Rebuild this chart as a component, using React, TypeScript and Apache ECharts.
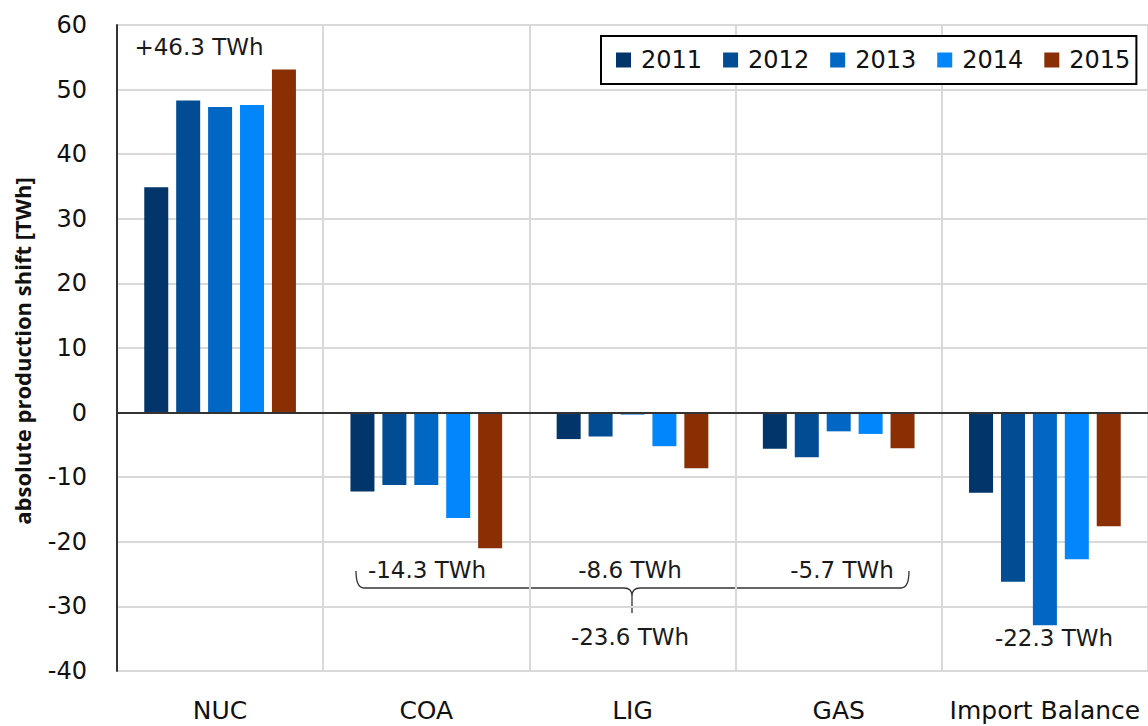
import React, { useEffect, useRef } from "react";
import * as echarts from "echarts";

const categories = ["NUC", "COA", "LIG", "GAS", "Import Balance"];
const years = ["2011", "2012", "2013", "2014", "2015"];
const values2011 = [34.9, -12.2, -4.1, -5.6, -12.4];
const values2012 = [48.3, -11.2, -3.7, -6.9, -26.2];
const values2013 = [47.3, -11.2, -0.3, -2.9, -32.9];
const values2014 = [47.6, -16.3, -5.2, -3.3, -22.7];
const values2015 = [53.1, -21.0, -8.6, -5.5, -17.6];
const seriesValues = [values2011, values2012, values2013, values2014, values2015];
const colors = ["#02356A", "#014C93", "#0167C5", "#0186FC", "#8A2E03"];
const yMin = -40;
const yMax = 60;
const yInterval = 10;
const yAxisName = "absolute production shift [TWh]";
const annotationTexts = ["+46.3 TWh", "-14.3 TWh", "-8.6 TWh", "-5.7 TWh", "-23.6 TWh", "-22.3 TWh"];

const FONT = "'DejaVu Sans', sans-serif";
const NAME_FONT = "'Open Sans', sans-serif";

const bracePath =
  "M356,571 Q356,588 364,588 L624,588 Q632,588 632,596 L632,613 M632,596 Q632,588 640,588 L901,588 Q909,588 909,571";

echarts.graphic.registerShape("brace", echarts.graphic.extendPath(bracePath, {}));

export default function App() {
  const ref = useRef<HTMLDivElement>(null);
  useEffect(() => {
    if (!ref.current) return;
    const chart = echarts.init(ref.current, null, { renderer: "svg" });
    const annPos = [
      [199, 47],
      [427, 570],
      [630, 570],
      [842, 570],
      [630, 637],
      [1054, 638],
    ];
    const option: any = {
      animation: false,
      backgroundColor: "#ffffff",
      textStyle: { fontFamily: FONT },
      grid: { left: 117, right: -2, top: 25, bottom: 55, containLabel: false },
      legend: {
        data: years,
        left: 601,
        top: 36,
        orient: "horizontal",
        padding: [12, 6, 12, 15],
        itemWidth: 15,
        itemHeight: 15,
        itemGap: 21,
        icon: "rect",
        borderColor: "#000",
        borderWidth: 2,
        backgroundColor: "#fff",
        textStyle: { fontSize: 24, color: "#111", fontFamily: FONT, padding: [0, 0, 0, 5] },
      },
      xAxis: {
        type: "category",
        data: categories,
        axisLine: { show: false, onZero: false },
        axisTick: { show: false },
        axisLabel: { interval: 0, fontSize: 25, color: "#111", margin: 27, fontFamily: FONT },
        splitLine: { show: true, interval: 0, lineStyle: { color: "#d9d9d9", width: 2 } },
      },
      yAxis: {
        type: "value",
        min: yMin,
        max: yMax,
        interval: yInterval,
        axisLine: { show: true, lineStyle: { color: "#333", width: 2 } },
        axisTick: { show: false },
        axisLabel: { fontSize: 24, color: "#111", margin: 30, fontFamily: FONT },
        splitLine: { show: true, lineStyle: { color: "#d9d9d9", width: 2 } },
      },
      series: years.map((y, i) => ({
        name: y,
        type: "bar",
        data: seriesValues[i],
        barWidth: 24,
        barGap: "33%",
        itemStyle: { color: colors[i] },
        markLine:
          i === 0
            ? {
                silent: true,
                symbol: "none",
                label: { show: false },
                lineStyle: { color: "#333", width: 2, type: "solid" },
                data: [{ yAxis: 0 }],
              }
            : undefined,
      })),
      graphic: [
        {
          type: "text",
          x: 22,
          y: 351,
          rotation: Math.PI / 2,
          style: {
            text: yAxisName,
            font: `bold 22px ${NAME_FONT}`,
            fill: "#111",
            align: "center",
            verticalAlign: "middle",
          },
        },
        ...annotationTexts.map((t, i) => ({
          type: "text",
          x: annPos[i][0],
          y: annPos[i][1],
          style: {
            text: t,
            font: `23px ${FONT}`,
            fill: "#1a1a1a",
            align: "center",
            verticalAlign: "middle",
          },
        })),
        {
          type: "brace",
          x: 0,
          y: 0,
          style: { stroke: "#333", fill: null, lineWidth: 1.3 },
        },
      ],
    };
    chart.setOption(option);
    return () => chart.dispose();
  }, []);
  return (
    <div
      ref={ref}
      style={{ position: "absolute", left: 0, top: 0, width: 1148, height: 726 }}
    />
  );
}
